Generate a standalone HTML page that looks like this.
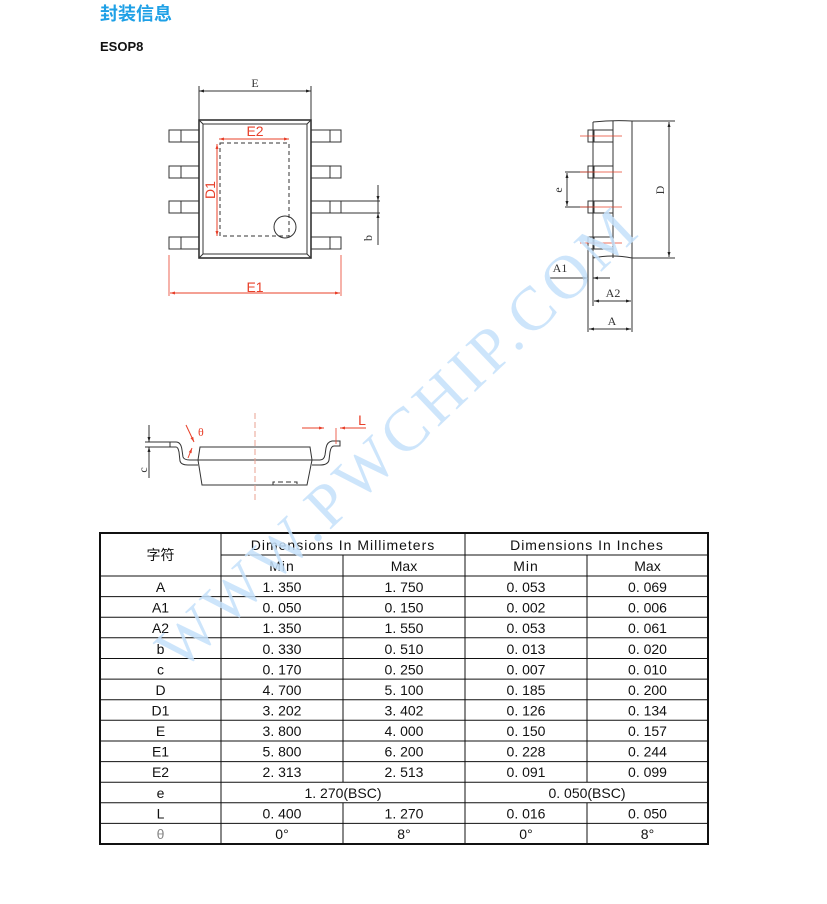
<!DOCTYPE html>
<html><head><meta charset="utf-8"><style>
html,body{margin:0;padding:0;background:#fff;}
svg{display:block}
.t{font-family:"Liberation Sans Narrow","Liberation Sans","Noto Sans CJK SC",sans-serif;font-size:14px;fill:#111;text-anchor:middle}
.s{font-family:"Liberation Serif",serif;font-size:12px;fill:#333;text-anchor:middle}
.r{font-family:"Liberation Sans",sans-serif;font-size:14px;fill:#e8402a;text-anchor:middle}
</style></head><body>
<svg width="827" height="904" viewBox="0 0 827 904" xmlns="http://www.w3.org/2000/svg">
<defs>
<marker id="ab" viewBox="0 0 10 10" refX="10" refY="5" markerWidth="7" markerHeight="5" orient="auto-start-reverse"><path d="M0,2 L10,5 L0,8z" fill="#222"/></marker>
<marker id="ar" viewBox="0 0 10 10" refX="10" refY="5" markerWidth="7" markerHeight="5" orient="auto-start-reverse"><path d="M0,2 L10,5 L0,8z" fill="#e8402a"/></marker>
</defs>
<text x="100" y="20" font-family="'Liberation Sans','Noto Sans CJK SC',sans-serif" font-size="18" font-weight="bold" fill="#1ea0e6">封装信息</text>
<text x="100" y="51" font-family="'Liberation Sans',sans-serif" font-size="13" font-weight="bold" fill="#111">ESOP8</text>

<!-- TOP VIEW -->
<g stroke="#333" fill="none" stroke-width="1">
<rect x="199" y="120" width="112" height="138" stroke-width="1.6"/>
<rect x="203" y="124" width="104" height="130"/>
<path d="M199,120 L203,124 M311,120 L307,124 M199,258 L203,254 M311,258 L307,254"/>
<g>
<rect x="169" y="130" width="30" height="12"/><line x1="181" y1="130" x2="181" y2="142"/>
<rect x="169" y="166" width="30" height="12"/><line x1="181" y1="166" x2="181" y2="178"/>
<rect x="169" y="201" width="30" height="12"/><line x1="181" y1="201" x2="181" y2="213"/>
<rect x="169" y="237" width="30" height="12"/><line x1="181" y1="237" x2="181" y2="249"/>
<rect x="311" y="130" width="30" height="12"/><line x1="330" y1="130" x2="330" y2="142"/>
<rect x="311" y="166" width="30" height="12"/><line x1="330" y1="166" x2="330" y2="178"/>
<rect x="311" y="201" width="30" height="12"/><line x1="330" y1="201" x2="330" y2="213"/>
<rect x="311" y="237" width="30" height="12"/><line x1="330" y1="237" x2="330" y2="249"/>
</g>
<line x1="199" y1="86" x2="199" y2="120"/><line x1="311" y1="86" x2="311" y2="120"/>
<line x1="199" y1="91" x2="311" y2="91" marker-start="url(#ab)" marker-end="url(#ab)"/>
<rect x="220" y="143" width="69" height="93" stroke-dasharray="4,3"/>
<circle cx="285" cy="227" r="11"/>
<line x1="341" y1="201" x2="380" y2="201"/><line x1="341" y1="213" x2="380" y2="213"/>
<line x1="378" y1="185" x2="378" y2="201" marker-end="url(#ab)"/>
<line x1="378" y1="245" x2="378" y2="213" marker-end="url(#ab)"/>
<line x1="378" y1="201" x2="378" y2="213"/>
</g>
<text x="255" y="87" class="s">E</text>
<text transform="translate(372,238) rotate(-90)" class="s">b</text>
<g stroke="#e8402a" fill="none">
<line x1="219" y1="139" x2="289" y2="139" marker-start="url(#ar)" marker-end="url(#ar)"/>
<line x1="217" y1="144" x2="217" y2="236" marker-start="url(#ar)" marker-end="url(#ar)"/>
<line x1="169" y1="255" x2="169" y2="296" stroke-width="0.8"/><line x1="341" y1="255" x2="341" y2="296" stroke-width="0.8"/>
<line x1="170" y1="293" x2="340" y2="293" marker-start="url(#ar)" marker-end="url(#ar)"/>
</g>
<text x="255" y="136" class="r">E2</text>
<text transform="translate(215,190) rotate(-90)" class="r">D1</text>
<text x="255" y="292" class="r">E1</text>

<!-- SIDE VIEW -->
<g stroke="#333" fill="none" stroke-width="1">
<path d="M593,122 L593,258"/>
<path d="M593,122 Q612,120 632,121 L632,258"/>
<path d="M613,121 L613,258"/>
<path d="M593,258 Q612,254 632,258"/>
<rect x="588" y="130" width="6" height="12"/><line x1="594" y1="130" x2="613" y2="130"/><line x1="594" y1="142" x2="613" y2="142"/>
<rect x="588" y="166" width="6" height="12"/><line x1="594" y1="166" x2="613" y2="166"/><line x1="594" y1="178" x2="613" y2="178"/>
<rect x="588" y="201" width="6" height="12"/><line x1="594" y1="201" x2="613" y2="201"/><line x1="594" y1="213" x2="613" y2="213"/>
<rect x="588" y="237" width="6" height="12"/><line x1="594" y1="237" x2="613" y2="237"/><line x1="594" y1="249" x2="613" y2="249"/>
<line x1="632" y1="121" x2="675" y2="121"/><line x1="632" y1="258" x2="675" y2="258"/>
<line x1="669" y1="122" x2="669" y2="257" marker-start="url(#ab)" marker-end="url(#ab)"/>
<line x1="565" y1="172" x2="593" y2="172"/><line x1="565" y1="207" x2="593" y2="207"/>
<line x1="567" y1="173" x2="567" y2="206" marker-start="url(#ab)" marker-end="url(#ab)"/>
<line x1="588" y1="249" x2="588" y2="332"/><line x1="593" y1="258" x2="593" y2="306"/><line x1="632" y1="258" x2="632" y2="332"/>
<line x1="550" y1="278" x2="588" y2="278" marker-end="url(#ab)"/><line x1="610" y1="278" x2="593" y2="278" marker-end="url(#ab)"/>
<line x1="594" y1="301" x2="631" y2="301" marker-start="url(#ab)" marker-end="url(#ab)"/>
<line x1="589" y1="329" x2="631" y2="329" marker-start="url(#ab)" marker-end="url(#ab)"/>
</g>
<g stroke="#e8402a" stroke-width="0.8">
<line x1="580" y1="136" x2="622" y2="136"/><line x1="580" y1="172" x2="622" y2="172"/>
<line x1="580" y1="207" x2="622" y2="207"/><line x1="580" y1="243" x2="622" y2="243"/>
</g>
<text transform="translate(664,190) rotate(-90)" class="s">D</text>
<text transform="translate(562,190) rotate(-90)" class="s">e</text>
<text x="560" y="272" class="s">A1</text>
<text x="613" y="297" class="s">A2</text>
<text x="612" y="325" class="s">A</text>

<!-- FRONT VIEW -->
<g stroke="#333" fill="none" stroke-width="1">
<path d="M200,447 L310,447 L312,460 L307,485 L202,485 L198,460 Z"/>
<line x1="198" y1="460" x2="312" y2="460"/>
<path d="M170,442 L176,442 Q181,442 182,450 L183,457 Q184,460 190,460 L198,460"/>
<path d="M170,442 L170,447 L176,447 Q178,447 179,452 L180,461 Q181,465 188,465 L198,465"/>
<path d="M312,460 L320,460 Q324,460 325,455 L326,448 Q327,442 332,441 L340,441 L340,446 L334,446 Q331,446 330,452 L329,460 Q328,465 320,465 L312,465"/>
<path d="M273,485 L273,482 L297,482 L297,485" stroke-dasharray="5,3"/>
<line x1="145" y1="442" x2="170" y2="442"/><line x1="145" y1="447" x2="170" y2="447"/>
<line x1="149" y1="425" x2="149" y2="442" marker-end="url(#ab)"/>
<line x1="149" y1="478" x2="149" y2="447" marker-end="url(#ab)"/>
</g>
<text transform="translate(147,470) rotate(-90)" class="s">c</text>
<line x1="255" y1="413" x2="255" y2="500" stroke="#e8a090" stroke-dasharray="6,3"/>
<g stroke="#e8402a" fill="none">
<line x1="336" y1="428" x2="336" y2="444" stroke-width="0.8"/>
<line x1="302" y1="428" x2="324" y2="428" marker-end="url(#ar)"/>
<line x1="366" y1="428" x2="340" y2="428" marker-end="url(#ar)"/>
<line x1="186" y1="425" x2="194" y2="442" marker-end="url(#ar)"/>
<line x1="188" y1="458" x2="192" y2="448" marker-end="url(#ar)"/>
</g>
<text x="362" y="425" class="r" font-size="13">L</text>
<text x="198" y="436" font-family="Liberation Serif,serif" font-size="12" fill="#e8402a">θ</text>

<!-- TABLE -->
<g stroke="#111" stroke-width="1" fill="none">
<rect x="100" y="533" width="608" height="311" stroke-width="2"/>
<line x1="221" y1="533" x2="221" y2="844"/>
<line x1="465" y1="533" x2="465" y2="844"/>
<line x1="343" y1="555" x2="343" y2="782"/><line x1="343" y1="802.8" x2="343" y2="844"/>
<line x1="587" y1="555" x2="587" y2="782"/><line x1="587" y1="802.8" x2="587" y2="844"/>
<line x1="221" y1="555" x2="708" y2="555"/>
<line x1="100" y1="576" x2="708" y2="576"/>
<line x1="100" y1="596.6" x2="708" y2="596.6"/>
<line x1="100" y1="617.2" x2="708" y2="617.2"/>
<line x1="100" y1="637.8" x2="708" y2="637.8"/>
<line x1="100" y1="658.5" x2="708" y2="658.5"/>
<line x1="100" y1="679.1" x2="708" y2="679.1"/>
<line x1="100" y1="699.7" x2="708" y2="699.7"/>
<line x1="100" y1="720.3" x2="708" y2="720.3"/>
<line x1="100" y1="741" x2="708" y2="741"/>
<line x1="100" y1="761.6" x2="708" y2="761.6"/>
<line x1="100" y1="782.2" x2="708" y2="782.2"/>
<line x1="100" y1="802.8" x2="708" y2="802.8"/>
<line x1="100" y1="823.4" x2="708" y2="823.4"/>
</g>
<g class="t">
<text x="160.5" y="560" class="t" font-size="15">字符</text>
<text x="343" y="550" class="t" letter-spacing="1">Dimensions In Millimeters</text>
<text x="587" y="550" class="t" letter-spacing="1">Dimensions In Inches</text>
<text x="282" y="571" class="t" letter-spacing="1">Min</text><text x="404" y="571" class="t">Max</text>
<text x="526" y="571" class="t" letter-spacing="1">Min</text><text x="647.5" y="571" class="t">Max</text>

<text x="160.5" y="592" class="t">A</text><text x="282" y="592" class="t">1. 350</text><text x="404" y="592" class="t">1. 750</text><text x="526" y="592" class="t">0. 053</text><text x="647.5" y="592" class="t">0. 069</text>
<text x="160.5" y="612.5" class="t">A1</text><text x="282" y="612.5" class="t">0. 050</text><text x="404" y="612.5" class="t">0. 150</text><text x="526" y="612.5" class="t">0. 002</text><text x="647.5" y="612.5" class="t">0. 006</text>
<text x="160.5" y="633" class="t">A2</text><text x="282" y="633" class="t">1. 350</text><text x="404" y="633" class="t">1. 550</text><text x="526" y="633" class="t">0. 053</text><text x="647.5" y="633" class="t">0. 061</text>
<text x="160.5" y="654" class="t">b</text><text x="282" y="654" class="t">0. 330</text><text x="404" y="654" class="t">0. 510</text><text x="526" y="654" class="t">0. 013</text><text x="647.5" y="654" class="t">0. 020</text>
<text x="160.5" y="674.5" class="t">c</text><text x="282" y="674.5" class="t">0. 170</text><text x="404" y="674.5" class="t">0. 250</text><text x="526" y="674.5" class="t">0. 007</text><text x="647.5" y="674.5" class="t">0. 010</text>
<text x="160.5" y="695" class="t">D</text><text x="282" y="695" class="t">4. 700</text><text x="404" y="695" class="t">5. 100</text><text x="526" y="695" class="t">0. 185</text><text x="647.5" y="695" class="t">0. 200</text>
<text x="160.5" y="715.5" class="t">D1</text><text x="282" y="715.5" class="t">3. 202</text><text x="404" y="715.5" class="t">3. 402</text><text x="526" y="715.5" class="t">0. 126</text><text x="647.5" y="715.5" class="t">0. 134</text>
<text x="160.5" y="736" class="t">E</text><text x="282" y="736" class="t">3. 800</text><text x="404" y="736" class="t">4. 000</text><text x="526" y="736" class="t">0. 150</text><text x="647.5" y="736" class="t">0. 157</text>
<text x="160.5" y="756.5" class="t">E1</text><text x="282" y="756.5" class="t">5. 800</text><text x="404" y="756.5" class="t">6. 200</text><text x="526" y="756.5" class="t">0. 228</text><text x="647.5" y="756.5" class="t">0. 244</text>
<text x="160.5" y="777" class="t">E2</text><text x="282" y="777" class="t">2. 313</text><text x="404" y="777" class="t">2. 513</text><text x="526" y="777" class="t">0. 091</text><text x="647.5" y="777" class="t">0. 099</text>
<text x="160.5" y="798" class="t">e</text><text x="343" y="798" class="t">1. 270(BSC)</text><text x="587" y="798" class="t">0. 050(BSC)</text>
<text x="160.5" y="818.5" class="t">L</text><text x="282" y="818.5" class="t">0. 400</text><text x="404" y="818.5" class="t">1. 270</text><text x="526" y="818.5" class="t">0. 016</text><text x="647.5" y="818.5" class="t">0. 050</text>
<text x="160.5" y="839" class="t" style="fill:#888">θ</text><text x="282" y="839" class="t">0°</text><text x="404" y="839" class="t">8°</text><text x="526" y="839" class="t">0°</text><text x="647.5" y="839" class="t">8°</text>
</g>

<!-- WATERMARK -->
<text transform="translate(412,452) rotate(-43.6)" font-family="'Liberation Serif',serif" font-size="62" fill="#c4e0fa" fill-opacity="0.85" text-anchor="middle" letter-spacing="5">WWW.PWCHIP.COM</text>
</svg>
</body></html>
